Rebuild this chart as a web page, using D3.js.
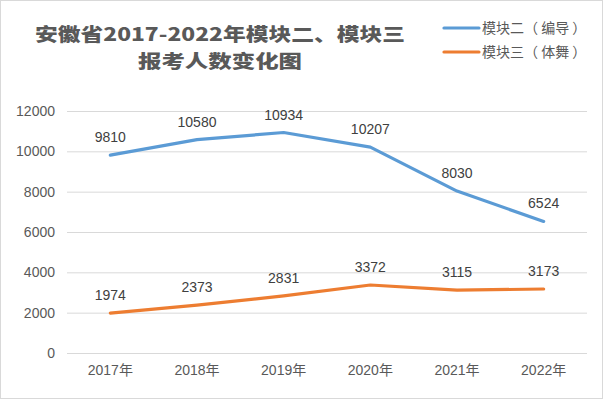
<!DOCTYPE html>
<html>
<head>
<meta charset="utf-8">
<script src="https://cdn.jsdelivr.net/npm/d3@7"></script>
<style>
  body { margin: 0; background: #fff; }
  text { font-family: "Liberation Sans", Arial, sans-serif; }
</style>
</head>
<body>
<div id="chart"></div>
<script>
// chart data
var years = ["2017年", "2018年", "2019年", "2020年", "2021年", "2022年"];
var seriesNames = ["模块二（ 编导 ）", "模块三（ 体舞 ）"];
var module2 = [9810, 10580, 10934, 10207, 8030, 6524];
var module3 = [1974, 2373, 2831, 3372, 3115, 3173];
var yTicks = [0, 2000, 4000, 6000, 8000, 10000, 12000];
var colors = ["#5B9BD5", "#ED7D31"];

var svgWidth = 603;
var svgHeight = 399;

var margin = { top: 111, right: 16, bottom: 46, left: 67 };
var chartWidth = svgWidth - margin.left - margin.right;
var chartHeight = svgHeight - margin.top - margin.bottom;

var svg = d3.select("#chart")
  .append("svg")
  .attr("width", svgWidth)
  .attr("height", svgHeight);

// outer frame
svg.append("rect")
  .attr("x", 0.5).attr("y", 0.5)
  .attr("width", svgWidth - 1).attr("height", svgHeight - 1)
  .attr("fill", "#fff")
  .attr("stroke", "#d9d9d9");

var chartGroup = svg.append("g")
  .attr("transform", `translate(${margin.left}, ${margin.top})`);

var xscale = d3.scaleBand()
  .domain(years)
  .range([0, chartWidth]);

var yscale = d3.scaleLinear()
  .domain([0, 12000])
  .range([chartHeight, 0]);

// gridlines + y labels
var leftAxis = d3.axisLeft(yscale)
  .tickValues(yTicks)
  .tickFormat(d3.format("d"))
  .tickSize(-chartWidth)
  .tickPadding(12);

var yAxis = chartGroup.append("g").call(leftAxis);
yAxis.select(".domain").remove();
yAxis.selectAll("line").attr("stroke", "#d9d9d9");
yAxis.selectAll("text")
  .attr("fill", "#595959")
  .attr("font-size", "14px")
  .style("font-family", "'Liberation Sans', Arial, sans-serif");

// x labels
var bottomAxis = d3.axisBottom(xscale).tickSize(0).tickPadding(12);
var xAxis = chartGroup.append("g")
  .attr("transform", `translate(0, ${chartHeight})`)
  .call(bottomAxis);
xAxis.select(".domain").remove();
xAxis.selectAll("text")
  .attr("fill", "#595959")
  .attr("font-size", "14px")
  .style("font-family", "'Liberation Sans', 'Noto Sans CJK SC', sans-serif");

var cx = d => xscale(d) + xscale.bandwidth() / 2;

[module2, module3].forEach(function(values, s) {
  var pts = values.map((v, i) => ({ year: years[i], value: v }));

  var line = d3.line()
    .x(d => cx(d.year))
    .y(d => yscale(d.value));

  chartGroup.append("path")
    .datum(pts)
    .attr("d", line)
    .attr("fill", "none")
    .attr("stroke", colors[s])
    .attr("stroke-width", 3.2)
    .attr("stroke-linejoin", "round")
    .attr("stroke-linecap", "round");

  chartGroup.selectAll(".lbl" + s)
    .data(pts)
    .enter()
    .append("text")
    .attr("class", "lbl" + s)
    .attr("x", d => cx(d.year))
    .attr("y", d => yscale(d.value) - 13)
    .attr("text-anchor", "middle")
    .attr("font-size", "14px")
    .attr("fill", "#404040")
    .text(d => d.value);
});

// title (stretched a bit so the two lines keep their spacing)
var titleLines = ["安徽省2017-2022年模块二、模块三", "报考人数变化图"];
var titleWidths = [370, 164];
titleLines.forEach(function(t, i) {
  svg.append("text")
    .attr("x", 220)
    .attr("y", 41 + i * 27)
    .attr("text-anchor", "middle")
    .attr("font-weight", 900)
    .attr("font-size", "18px")
    .attr("textLength", titleWidths[i])
    .attr("lengthAdjust", "spacingAndGlyphs")
    .attr("fill", "#595959")
    .style("font-family", "'Noto Sans CJK SC', sans-serif")
    .text(t);
});

// legend
var legend = svg.append("g");
seriesNames.forEach(function(name, s) {
  var y = 28 + s * 24;
  legend.append("line")
    .attr("x1", 444).attr("x2", 479)
    .attr("y1", y).attr("y2", y)
    .attr("stroke", colors[s])
    .attr("stroke-width", 3.2)
    .attr("stroke-linecap", "round");
  legend.append("text")
    .attr("x", 482).attr("y", y + 5)
    .attr("font-size", "14px")
    .attr("fill", "#595959")
    .style("font-family", "'Noto Sans CJK SC', sans-serif")
    .text(name);
});
</script>
</body>
</html>
